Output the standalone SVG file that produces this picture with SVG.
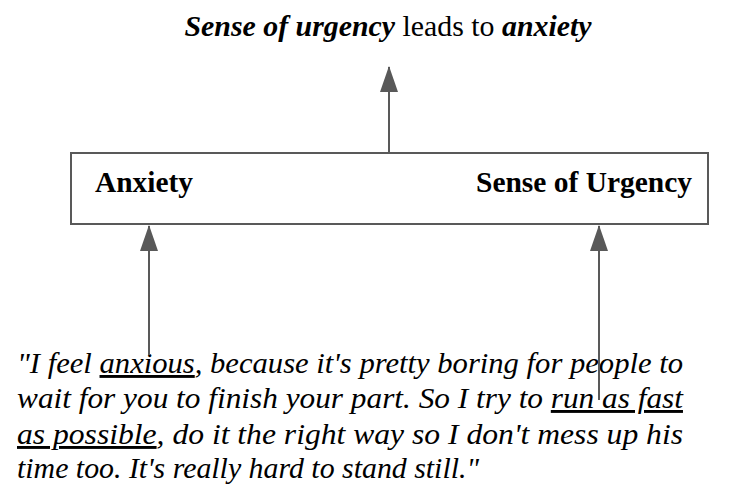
<svg xmlns="http://www.w3.org/2000/svg" width="738" height="491" viewBox="0 0 738 491">
<style>
text{font-family:'Liberation Serif',serif;fill:#000}
.title{font-size:30px}
.bi{font-weight:bold;font-style:italic}
.lbl{font-size:29.5px;font-weight:bold}
.q{font-size:29px;font-style:italic}
.u{text-decoration:underline}
.box{fill:#fff;stroke:#595959;stroke-width:2}
.con{stroke:#595959;stroke-width:2;fill:none;marker-end:url(#ah)}
</style>
<defs>
<marker id="ah" viewBox="0 0 26 18" refX="25" refY="9" markerWidth="26" markerHeight="18" markerUnits="userSpaceOnUse" orient="auto">
<path d="M0,0 L26,9 L0,18 Z" fill="#595959"/>
</marker>
</defs>
<g id="title">
<text class="title" x="388" y="36" text-anchor="middle" textLength="407" lengthAdjust="spacingAndGlyphs"><tspan class="bi">Sense of urgency</tspan> leads to <tspan class="bi">anxiety</tspan></text>
</g>
<g id="box">
<rect class="box" x="71" y="153" width="637" height="71"/>
<text class="lbl" x="95" y="192" textLength="98" lengthAdjust="spacingAndGlyphs">Anxiety</text>
<text class="lbl" x="476" y="192" textLength="216" lengthAdjust="spacingAndGlyphs">Sense of Urgency</text>
</g>
<g id="quote">
<text class="q" x="17" y="373" textLength="666" lengthAdjust="spacingAndGlyphs">"I feel <tspan class="u">anxious</tspan>, because it's pretty boring for people to</text>
<text class="q" x="17" y="408" textLength="666" lengthAdjust="spacingAndGlyphs">wait for you to finish your part. So I try to <tspan class="u">run as fast</tspan></text>
<text class="q" x="17" y="444" textLength="666" lengthAdjust="spacingAndGlyphs"><tspan class="u">as possible</tspan>, do it the right way so I don't mess up his</text>
<text class="q" x="17" y="478" textLength="462" lengthAdjust="spacingAndGlyphs">time too. It's really hard to stand still."</text>
</g>
<g id="connectors">
<line class="con" x1="389" y1="153" x2="389" y2="67"/>
<line class="con" x1="149" y1="355" x2="149" y2="226"/>
<line class="con" x1="599" y1="400" x2="599" y2="226"/>
</g>
</svg>
